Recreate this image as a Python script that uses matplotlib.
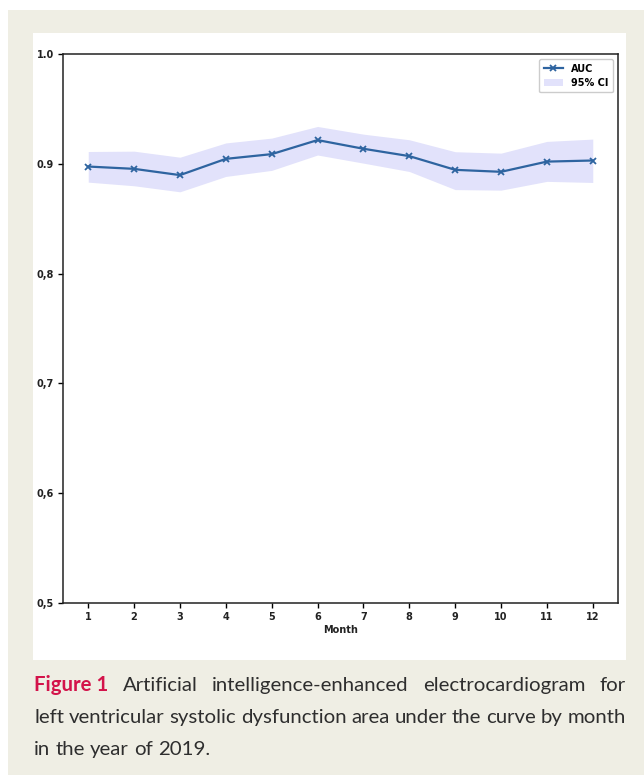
import matplotlib
matplotlib.use("Agg")
import matplotlib.pyplot as plt
from matplotlib.patches import Rectangle

# data
months = list(range(1, 13))
auc = [0.8975, 0.8954, 0.8897, 0.9045, 0.9088, 0.9216,
       0.9137, 0.9070, 0.8945, 0.8927, 0.9020, 0.9030]
ci_low = [0.8833, 0.8800, 0.8745, 0.8885, 0.8940, 0.9080,
          0.9006, 0.8930, 0.8765, 0.8760, 0.8840, 0.8830]
ci_high = [0.9112, 0.9115, 0.9060, 0.9190, 0.9234, 0.9340,
           0.9270, 0.9219, 0.9110, 0.9097, 0.9204, 0.9225]
y_ticks = [0.5, 0.6, 0.7, 0.8, 0.9, 1.0]
y_labels = ["0,5", "0,6", "0,7", "0,8", "0.9", "1.0"]

caption_lines = [
    ["Artificial", "intelligence-enhanced", "electrocardiogram", "for"],
    ["left", "ventricular", "systolic", "dysfunction", "area", "under", "the",
     "curve", "by", "month"],
    ["in", "the", "year", "of", "2019."],
]

W, H = 644, 775
fig = plt.figure(figsize=(W / 100, H / 100), dpi=100)
fig.patch.set_facecolor("white")

# page background and white panel
fig.patches.append(Rectangle((8 / W, 0), 1 - 8 / W, 1 - 10 / H,
                             transform=fig.transFigure, facecolor="#efeee4",
                             edgecolor="none", zorder=-2))
fig.patches.append(Rectangle((33 / W, 1 - 660 / H), (626 - 33) / W, (660 - 33) / H,
                             transform=fig.transFigure, facecolor="white",
                             edgecolor="none", zorder=-1))

ax = fig.add_axes([63 / W, 1 - 603 / H, (618 - 63) / W, (603 - 54) / H])
ax.set_facecolor("white")

ax.fill_between(months, ci_low, ci_high, color="#e2e2fb", linewidth=0,
                label="95% CI")
ax.plot(months, auc, color="#2e64a0", marker="x", markersize=5,
        markeredgewidth=1.3, linewidth=1.6, label="AUC")

ax.set_ylim(0.5, 1.0)
ax.set_xlim(0.45, 12.55)
ax.set_xticks(months)
ax.set_xticklabels([str(m) for m in months], fontsize=7, fontweight="bold",
                   color="#222222")
ax.set_yticks(y_ticks)
ax.set_yticklabels(y_labels, fontsize=7, fontweight="bold", color="#222222")
ax.set_xlabel("Month", fontsize=7, fontweight="bold", color="#222222",
              labelpad=2)
ax.tick_params(length=3.5, width=1, pad=3)
for sp in ax.spines.values():
    sp.set_linewidth(1.1)
    sp.set_color("#222222")

handles, labels = ax.get_legend_handles_labels()
leg = ax.legend(handles[::-1], labels[::-1], loc="upper right",
                prop={"size": 7, "weight": "bold"}, handlelength=2.0,
                borderpad=0.5, labelspacing=0.4, framealpha=1)

# caption with justified lines
fig.canvas.draw()
renderer = fig.canvas.get_renderer()
cap_font = dict(family="Lato", size=14.7)
left, right = 34, 626
baselines = [691, 723, 755]


def width_px(txt, **kw):
    t = fig.text(0, 0, txt, **kw)
    w = t.get_window_extent(renderer=renderer).width
    t.remove()
    return w


space_w = width_px("a b", **cap_font) - width_px("ab", **cap_font)

for i, words in enumerate(caption_lines):
    items = []
    if i == 0:
        items.append(("Figure 1", dict(family="Lato", size=14.7,
                                       weight="bold", color="#d3134a")))
    for w in words:
        items.append((w, dict(cap_font, color="#2e2e2e")))
    widths = [width_px(t, **kw) for t, kw in items]
    if i < 2:
        gap = (right - left - sum(widths)) / (len(items) - 1)
    else:
        gap = space_w
    x = left
    for (t, kw), w in zip(items, widths):
        fig.text(x / W, 1 - baselines[i] / H, t, ha="left",
                 va="baseline", **kw)
        x += w + gap

fig.savefig("out.png", dpi=100)
